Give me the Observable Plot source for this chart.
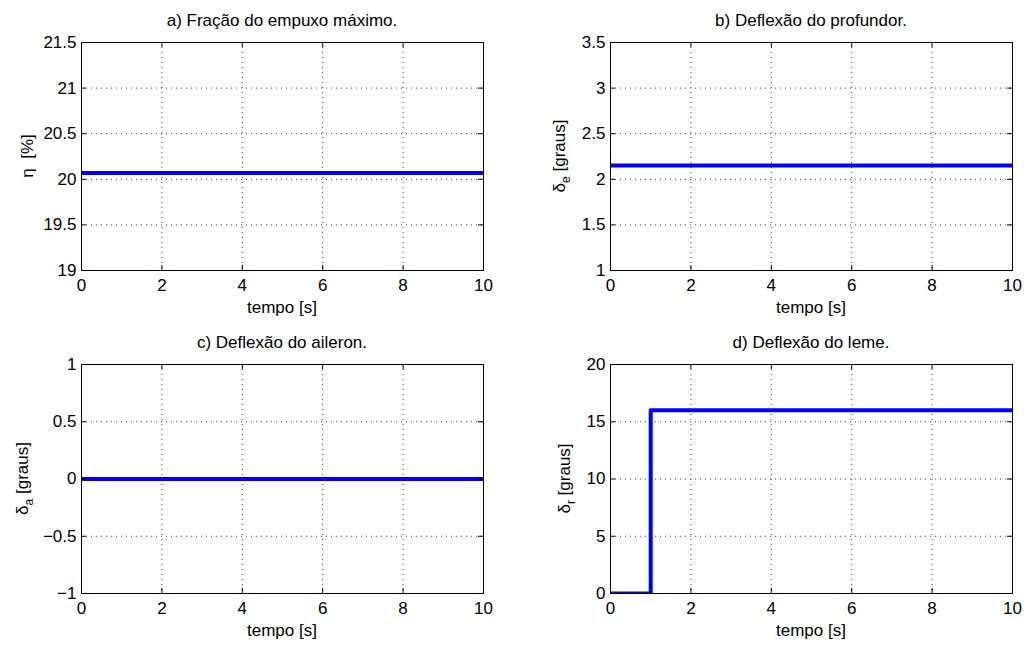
<!DOCTYPE html>
<html><head><meta charset="utf-8">
<script src="https://cdn.jsdelivr.net/npm/d3@7"></script>
<script src="https://cdn.jsdelivr.net/npm/@observablehq/plot@0.6"></script>
<style>
body{margin:0;background:#fff}
#wrap{position:relative;width:1026px;height:646px;overflow:hidden}
#wrap svg{position:absolute}
</style>
</head><body><div id="wrap"></div>
<script>
// ---- data ----
const time = [0, 10];
const eta = [20.07, 20.07];
const elevator = [2.15, 2.15];
const aileron = [0, 0];
const rudderTime = [0, 1, 10];
const rudder = [0, 16, 16];

const xTicks = [0, 2, 4, 6, 8, 10];
const etaTicks = [19, 19.5, 20, 20.5, 21, 21.5];
const elevTicks = [1, 1.5, 2, 2.5, 3, 3.5];
const ailTicks = [-1, -0.5, 0, 0.5, 1];
const rudTicks = [0, 5, 10, 15, 20];

const titles = ["a) Fração do empuxo máximo.", "b) Deflexão do profundor.", "c) Deflexão do aileron.", "d) Deflexão do leme."];
const xLabel = "tempo [s]";
const yLabels = [
  {sym: "η", sub: "", unit: "  [%]"},
  {sym: "δ", sub: "e", unit: " [graus]"},
  {sym: "δ", sub: "a", unit: " [graus]"},
  {sym: "δ", sub: "r", unit: " [graus]"}
];

// ---- layout ----
const FONT = "'Liberation Sans', Arial, Helvetica, sans-serif";
const panels = [
  {t: time, v: eta, ticks: etaTicks, curve: "linear", left: 0, top: 0, W: 513, H: 323, mL: 81, mR: 30, mT: 42, mB: 53, ylx: 33},
  {t: time, v: elevator, ticks: elevTicks, curve: "linear", left: 513, top: 0, W: 513, H: 323, mL: 97, mR: 14, mT: 42, mB: 53, ylx: 52},
  {t: time, v: aileron, ticks: ailTicks, curve: "linear", left: 0, top: 323, W: 513, H: 323, mL: 81, mR: 30, mT: 41, mB: 53, ylx: 28},
  {t: rudderTime, v: rudder, ticks: rudTicks, curve: "step-after", left: 513, top: 323, W: 513, H: 323, mL: 97, mR: 14, mT: 41, mB: 53, ylx: 57}
];

const fmt = d3.format("~g");
const wrap = document.getElementById("wrap");

panels.forEach((p, i) => {
  const iw = p.W - p.mL - p.mR;
  const ih = p.H - p.mT - p.mB;
  const rows = p.t.map((t, k) => ({t, v: p.v[k]}));
  const yDomain = [p.ticks[0], p.ticks[p.ticks.length - 1]];
  const chart = Plot.plot({
    width: p.W, height: p.H,
    marginLeft: p.mL, marginRight: p.mR, marginTop: p.mT, marginBottom: p.mB,
    style: {fontFamily: FONT, fontSize: "17px", color: "#000", background: "transparent", overflow: "visible"},
    x: {domain: [0, 10], nice: false},
    y: {domain: yDomain, nice: false},
    marks: [
      Plot.gridX(xTicks, {stroke: "#000", strokeOpacity: 0.75, strokeDasharray: "1,4"}),
      Plot.gridY(p.ticks, {stroke: "#000", strokeOpacity: 0.75, strokeDasharray: "1,4"}),
      Plot.line(rows, {x: "t", y: "v", curve: p.curve, stroke: "#0000ff", strokeWidth: 4, clip: true}),
      Plot.tickX(xTicks, {x: d => d, insetTop: ih - 5, stroke: "#000"}),
      Plot.tickX(xTicks, {x: d => d, insetBottom: ih - 5, stroke: "#000"}),
      Plot.tickY(p.ticks, {y: d => d, insetRight: iw - 5, stroke: "#000"}),
      Plot.tickY(p.ticks, {y: d => d, insetLeft: iw - 5, stroke: "#000"}),
      Plot.frame({stroke: "#000", strokeWidth: 1}),
      Plot.axisX(xTicks, {tickSize: 0, tickPadding: 8, label: null, fill: "#000", fontSize: 17, tickFormat: fmt}),
      Plot.axisY(p.ticks, {tickSize: 0, tickPadding: 5, label: null, fill: "#000", fontSize: 17, tickFormat: fmt})
    ]
  });
  chart.style.left = p.left + "px";
  chart.style.top = p.top + "px";
  wrap.appendChild(chart);

  const svg = d3.select(chart);
  const cx = p.mL + iw / 2;
  const cy = p.mT + ih / 2;
  // title
  svg.append("text")
    .attr("x", cx).attr("y", p.mT - 16)
    .attr("text-anchor", "middle")
    .attr("font-family", FONT).attr("font-size", 17).attr("fill", "#000")
    .text(titles[i]);
  // x label
  svg.append("text")
    .attr("x", cx).attr("y", p.H - p.mB + 43)
    .attr("text-anchor", "middle")
    .attr("font-family", FONT).attr("font-size", 17).attr("fill", "#000")
    .text(xLabel);
  // y label with subscript
  const yl = yLabels[i];
  const t = svg.append("text")
    .attr("transform", `translate(${p.ylx},${cy}) rotate(-90)`)
    .attr("text-anchor", "middle")
    .attr("font-family", FONT).attr("font-size", 17).attr("fill", "#000")
    .attr("xml:space", "preserve").style("white-space", "pre");
  t.append("tspan").text(yl.sym);
  if (yl.sub) {
    t.append("tspan").attr("dy", 5).attr("font-size", 12).text(yl.sub);
    t.append("tspan").attr("dy", -5).text(yl.unit);
  } else {
    t.append("tspan").text(yl.unit);
  }
});
</script>
</body></html>
